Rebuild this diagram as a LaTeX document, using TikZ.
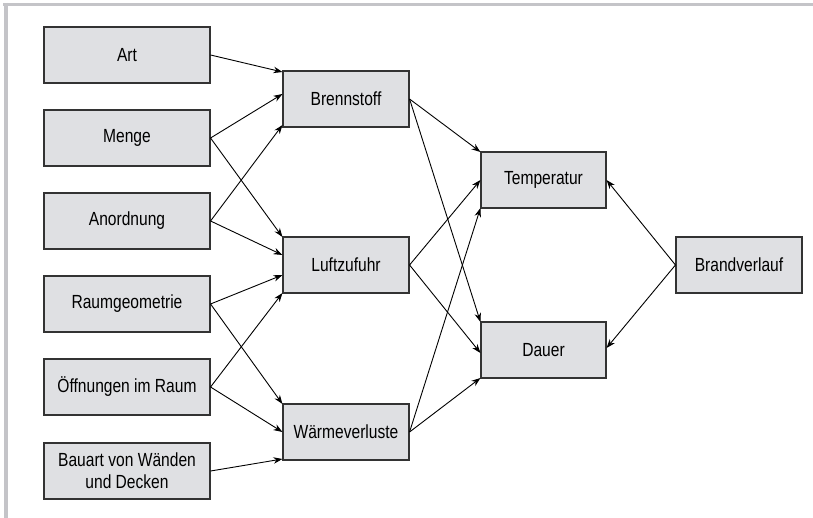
\documentclass[tikz,border=0pt]{standalone}
\usepackage{fontspec}
\setmainfont{Liberation Sans}[FakeStretch=0.82]
\usetikzlibrary{arrows.meta}
\definecolor{boxgray}{HTML}{DFE0E3}
\definecolor{framegray}{HTML}{C4C4C8}
\newcommand{\bx}{\fontsize{19}{22}\selectfont}

\begin{document}
\begin{tikzpicture}[x=1pt,y=1pt,
   box/.style={draw=black!80,fill=boxgray,line width=1.1pt,minimum height=56pt,
     inner sep=0pt,align=center,font=\bx},
   wide/.style={box,minimum width=166pt},
   mid/.style={box,minimum width=126pt},
   pfeil/.style={line width=0.9pt,-{Stealth[length=9pt,width=6.5pt]}}]
   \useasboundingbox (0,0) rectangle (813,-518);
   \fill[white] (0,0) rectangle (813,-518);
   \draw[framegray,line width=3pt] (3,-4.5) -- (813,-4.5);
   \draw[framegray,line width=4pt] (6,-3) -- (6,-518);

   \node[wide] (art)   at (127,-55)  {Art};
   \node[wide] (menge) at (127,-138) {Menge};
   \node[wide] (anord) at (127,-221) {Anordnung};
   \node[wide] (raum)  at (127,-304) {Raumgeometrie};
   \node[wide] (oeff)  at (127,-387) {Öffnungen im Raum};
   \node[wide] (bau)   at (127,-471) {Bauart von Wänden\\und Decken};

   \node[mid] (brenn) at (346,-99)  {Brennstoff};
   \node[mid] (luft)  at (346,-265) {Luftzufuhr};
   \node[mid] (waerm) at (346,-432) {Wärmeverluste};

   \node[mid,minimum width=125pt] (temp)  at (543.5,-180) {Temperatur};
   \node[mid,minimum width=125pt] (dauer) at (543.5,-350) {Dauer};

   \node[mid] (brand) at (739,-265) {Brandverlauf};

   \draw[pfeil] (art.east)   -- ([yshift=27pt]brenn.west);
   \draw[pfeil] (menge.east) -- ([yshift=5pt]brenn.west);
   \draw[pfeil] (anord.east) -- ([yshift=-26pt]brenn.west);
   \draw[pfeil] (menge.east) -- ([yshift=28pt]luft.west);
   \draw[pfeil] (anord.east) -- ([yshift=10pt]luft.west);
   \draw[pfeil] (raum.east)  -- ([yshift=-10pt]luft.west);
   \draw[pfeil] (oeff.east)  -- ([yshift=-28pt]luft.west);
   \draw[pfeil] (raum.east)  -- ([yshift=28pt]waerm.west);
   \draw[pfeil] (oeff.east)  -- (waerm.west);
   \draw[pfeil] (bau.east)   -- ([yshift=-27pt]waerm.west);

   \draw[pfeil] (brenn.east) -- ([yshift=28pt]temp.west);
   \draw[pfeil] (luft.east)  -- (temp.west);
   \draw[pfeil] (waerm.east) -- ([yshift=-28pt]temp.west);
   \draw[pfeil] (brenn.east) -- ([yshift=28pt]dauer.west);
   \draw[pfeil] (luft.east)  -- ([yshift=-3pt]dauer.west);
   \draw[pfeil] (waerm.east) -- ([yshift=-28pt]dauer.west);

   \draw[pfeil] (brand.west) -- (temp.east);
   \draw[pfeil] (brand.west) -- ([yshift=2pt]dauer.east);
\end{tikzpicture}
\end{document}
